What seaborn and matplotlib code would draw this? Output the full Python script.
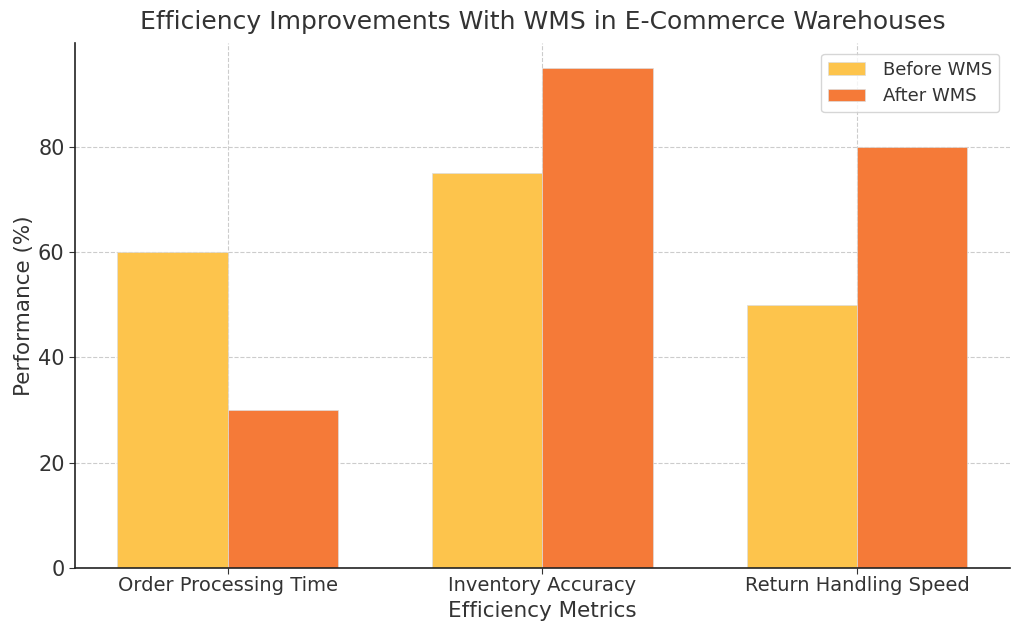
import matplotlib
matplotlib.use("Agg")
import matplotlib.pyplot as plt
import seaborn as sns
import pandas as pd

categories = ["Order Processing Time", "Inventory Accuracy", "Return Handling Speed"]
before_wms = [60, 75, 50]
after_wms = [30, 95, 80]
series_names = ["Before WMS", "After WMS"]
colors = ["#FDC44C", "#F57A38"]

df = pd.DataFrame({
    "Metric": categories * 2,
    "Value": before_wms + after_wms,
    "Series": [series_names[0]] * len(categories) + [series_names[1]] * len(categories),
})

sns.set_style("white")
plt.rcParams['font.family'] = ['DejaVu Sans']
text_color = "#333333"

fig = plt.figure(figsize=(10.24, 6.35), dpi=100)
ax = fig.add_axes([0.0732, 0.1055, 0.9131, 0.8268])

sns.barplot(data=df, x="Metric", y="Value", hue="Series", palette=colors,
            width=0.7, ax=ax, linewidth=0.5, edgecolor="#dddddd", saturation=1)

ax.set_xlim(-0.485, 2.485)
ax.set_ylim(0, 99.75)
ax.set_yticks([0, 20, 40, 60, 80])
ax.grid(True, linestyle="--", color="#cccccc", linewidth=0.8)
ax.set_axisbelow(True)
sns.despine(ax=ax)
for s in ["left", "bottom"]:
    ax.spines[s].set_color("#222222")
    ax.spines[s].set_linewidth(1.2)

ax.tick_params(axis="y", labelsize=15, colors=text_color, left=True, length=4)
ax.tick_params(axis="x", labelsize=14, colors=text_color, bottom=True, length=4, pad=2)
ax.set_xlabel("Efficiency Metrics", fontsize=15.5, color=text_color, labelpad=4)
ax.set_ylabel("Performance (%)", fontsize=15.5, color=text_color, labelpad=3)
ax.set_title("Efficiency Improvements With WMS in E-Commerce Warehouses",
             fontsize=18, color=text_color, pad=10)

leg = ax.legend(loc="upper right", fontsize=13, frameon=True, fancybox=True,
                handlelength=2.0, handleheight=0.7, borderpad=0.4, labelspacing=0.45,
                handletextpad=1.0, borderaxespad=0.6)
for t in leg.get_texts():
    t.set_color(text_color)
leg.get_frame().set_edgecolor("#cccccc")

fig.savefig("out.png", dpi=100)
